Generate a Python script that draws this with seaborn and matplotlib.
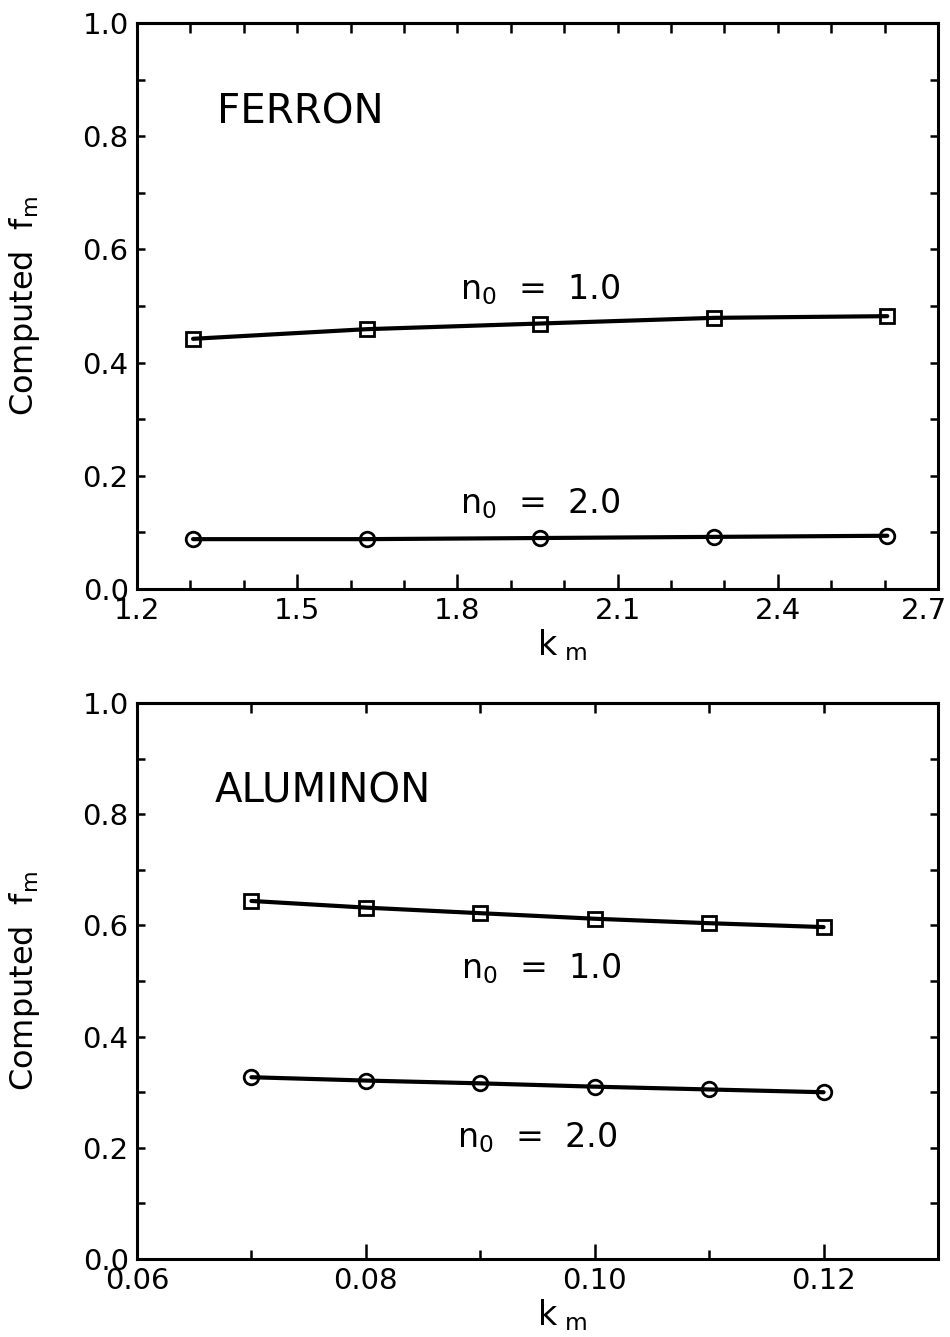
import numpy as np
import matplotlib
matplotlib.use("Agg")
import matplotlib.pyplot as plt
import matplotlib.transforms as mtransforms
from matplotlib.ticker import MultipleLocator, FixedLocator, NullFormatter
import seaborn as sns

# ---------------- data ----------------
km_ferron = [1.305, 1.63, 1.955, 2.28, 2.605]
fm_ferron_n1 = [0.442, 0.459, 0.469, 0.479, 0.482]
fm_ferron_n2 = [0.088, 0.088, 0.090, 0.092, 0.094]

km_alum = [0.07, 0.08, 0.09, 0.10, 0.11, 0.12]
fm_alum_n1 = [0.644, 0.632, 0.622, 0.612, 0.604, 0.597]
fm_alum_n2 = [0.327, 0.321, 0.316, 0.310, 0.305, 0.300]

ferron_xticks = [1.2, 1.5, 1.8, 2.1, 2.4, 2.7]
alum_xticks = [0.06, 0.08, 0.10, 0.12]
yticks = [0.0, 0.2, 0.4, 0.6, 0.8, 1.0]

label_n1 = r"n$_\mathrm{0}$  =  1.0"
label_n2 = r"n$_\mathrm{0}$  =  2.0"
ylabel = r"Computed  f$_\mathrm{m}$"
xlabel = r"k$_{\ \mathrm{m}}$"

# ---------------- style ----------------
sns.set_theme(style="ticks")
plt.rcParams["font.family"] = ["DejaVu Sans"]
plt.rcParams["mathtext.fontset"] = "dejavusans"
plt.rcParams["text.color"] = "black"
plt.rcParams["axes.labelcolor"] = "black"
plt.rcParams["xtick.color"] = "black"
plt.rcParams["ytick.color"] = "black"

fig = plt.figure(figsize=(9.5, 13.37), dpi=100)
ax1 = fig.add_axes([0.1442, 0.5595, 0.8432, 0.4233])
ax2 = fig.add_axes([0.1442, 0.0583, 0.8432, 0.4159])

LW = 3.0
MS = 10.5
MEW = 2.0
SPINE = 2.2
TICK_FS = 21


def style_axes(ax, xlim, xmajor, xminor_step, top_ticks, fmt):
    ax.set_xlim(*xlim)
    ax.set_ylim(0, 1.0)
    ax.xaxis.set_major_locator(FixedLocator(xmajor))
    ax.xaxis.set_minor_locator(MultipleLocator(xminor_step))
    ax.yaxis.set_major_locator(FixedLocator(yticks))
    ax.yaxis.set_minor_locator(MultipleLocator(0.1))
    ax.set_xticklabels([fmt.format(v) for v in xmajor])
    ax.set_yticklabels(["{:.1f}".format(v) for v in yticks])
    for s in ax.spines.values():
        s.set_visible(True)
        s.set_linewidth(SPINE)
        s.set_color("black")
    ax.tick_params(axis="x", which="major", direction="in", length=11, width=1.8,
                   top=False, bottom=True, labelsize=TICK_FS, pad=6,
                   colors="black", labelcolor="black")
    ax.tick_params(axis="x", which="minor", direction="in", length=6.5, width=1.8,
                   top=False, bottom=True)
    ax.tick_params(axis="y", which="both", direction="in", length=6, width=1.8,
                   left=True, right=True, labelsize=TICK_FS, pad=6,
                   colors="black", labelcolor="black")
    sec = ax.secondary_xaxis("top")
    sec.xaxis.set_major_locator(FixedLocator(top_ticks))
    sec.xaxis.set_major_formatter(NullFormatter())
    sec.tick_params(direction="in", length=7, width=1.8, colors="black")
    sec.spines["top"].set_linewidth(SPINE)
    ax.set_ylabel(ylabel, fontsize=23, color="black")
    ax.yaxis.set_label_coords(-0.118, 0.5)
    ax.set_xlabel(xlabel, fontsize=24, color="black")
    ax.xaxis.set_label_coords(0.53, -0.068)
    ax.xaxis.label.set_va("top")


def draw(ax, x, y, marker):
    sns.lineplot(x=x, y=y, ax=ax, color="black", linewidth=LW, marker=marker,
                 markersize=MS, markerfacecolor="none", markeredgecolor="black",
                 markeredgewidth=MEW, legend=False)


# ---------------- top panel: FERRON ----------------
draw(ax1, km_ferron, fm_ferron_n1, "s")
draw(ax1, km_ferron, fm_ferron_n2, "o")
style_axes(ax1, (1.2, 2.7), ferron_xticks, 0.1,
           [round(v, 1) for v in np.arange(1.3, 2.65, 0.1)], "{:.1f}")
ax1.text(1.35, 0.841, "FERRON", fontsize=29, va="center", ha="left", color="black")
ax1.text(1.805, 0.511, label_n1, fontsize=24, va="baseline", ha="left", color="black")
ax1.text(1.805, 0.134, label_n2, fontsize=24, va="baseline", ha="left", color="black")
# keep the last tick label (2.7) inside the figure
last = ax1.get_xticklabels()[-1]
last.set_transform(last.get_transform() +
                   mtransforms.ScaledTranslation(-14 / 100, 0, fig.dpi_scale_trans))

# ---------------- bottom panel: ALUMINON ----------------
draw(ax2, km_alum, fm_alum_n1, "s")
draw(ax2, km_alum, fm_alum_n2, "o")
style_axes(ax2, (0.06, 0.13), alum_xticks, 0.01,
           [0.07, 0.08, 0.09, 0.10, 0.11, 0.12], "{:.2f}")
ax2.text(0.0668, 0.84, "ALUMINON", fontsize=29, va="center", ha="left", color="black")
ax2.text(0.0883, 0.505, label_n1, fontsize=24, va="baseline", ha="left", color="black")
ax2.text(0.0880, 0.201, label_n2, fontsize=24, va="baseline", ha="left", color="black")

fig.savefig("out.png", dpi=100, facecolor="white")
